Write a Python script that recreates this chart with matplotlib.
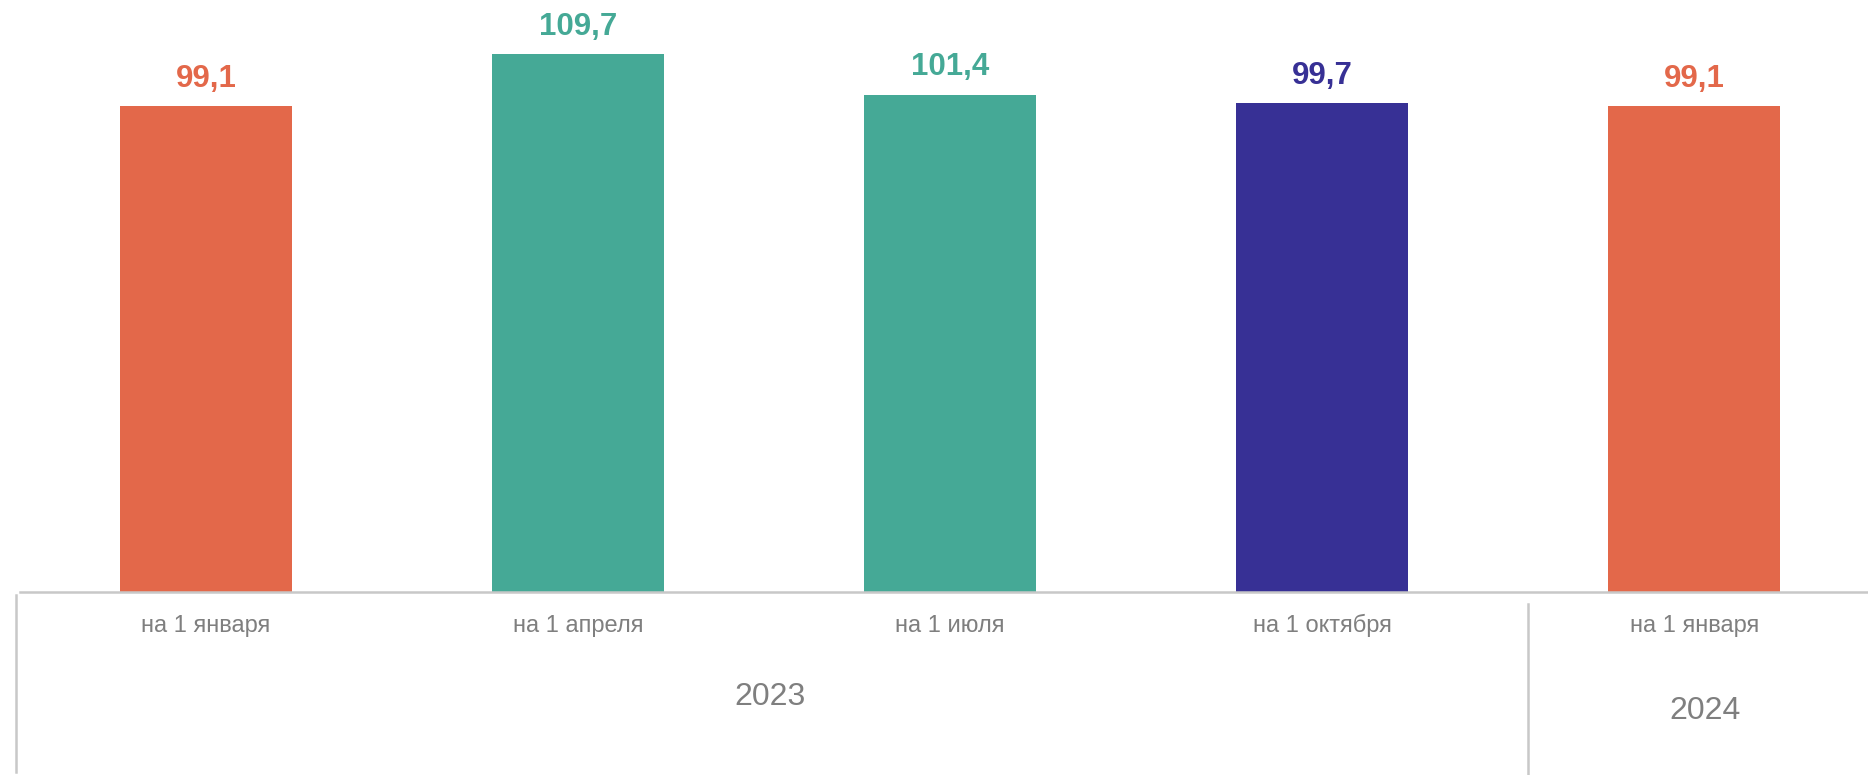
import matplotlib.pyplot as plt
import matplotlib.transforms as mtransforms

plt.rcParams['font.family'] = ['Liberation Sans', 'DejaVu Sans']

# data
dates = ["на 1 января", "на 1 апреля", "на 1 июля", "на 1 октября", "на 1 января"]
values = [99.1, 109.7, 101.4, 99.7, 99.1]
labels = ["99,1", "109,7", "101,4", "99,7", "99,1"]
years = ["2023", "2024"]
colors = ["#E3684A", "#45A996", "#45A996", "#373095", "#E3684A"]

fig = plt.figure(figsize=(18.68, 7.75), dpi=100)
ax = fig.add_axes([20 / 1868, 1 - 592 / 775, 1848 / 1868, 592 / 775])

x = list(range(len(values)))
ax.bar(x, values, width=0.462, color=colors)

for xi, v, lab, c in zip(x, values, labels, colors):
    ax.annotate(lab, (xi, v), xytext=(0, 20), textcoords='offset points',
                ha='center', va='center', fontsize=22.5, fontweight='bold', color=c)

ax.set_xlim(-0.5, 4.467)
ax.set_ylim(0, 120.8)

ax.set_xticks([])
ax.set_yticks([])

for s in ['top', 'right', 'left']:
    ax.spines[s].set_visible(False)
ax.spines['bottom'].set_color('#c8c8c8')
ax.spines['bottom'].set_linewidth(1.8)

trans = mtransforms.blended_transform_factory(ax.transData, ax.transAxes)

# category labels, baseline aligned
for xi, d in zip(x, dates):
    ax.text(xi, -0.067, d, transform=trans, ha='center', va='baseline',
            fontsize=17, color='#7f7f7f')

# year labels
ax.text(1.517, -0.177, years[0], transform=trans, ha='center', va='center',
        fontsize=23, color='#7f7f7f')
ax.text(4.03, -0.201, years[1], transform=trans, ha='center', va='center',
        fontsize=23, color='#7f7f7f')

# group dividers
ax.plot([-0.51, -0.51], [-0.005, -0.304], transform=trans, color='#c8c8c8',
        lw=1.8, clip_on=False)
ax.plot([3.553, 3.553], [-0.020, -0.307], transform=trans, color='#c8c8c8',
        lw=1.8, clip_on=False)

fig.savefig('out.png', dpi=100)
